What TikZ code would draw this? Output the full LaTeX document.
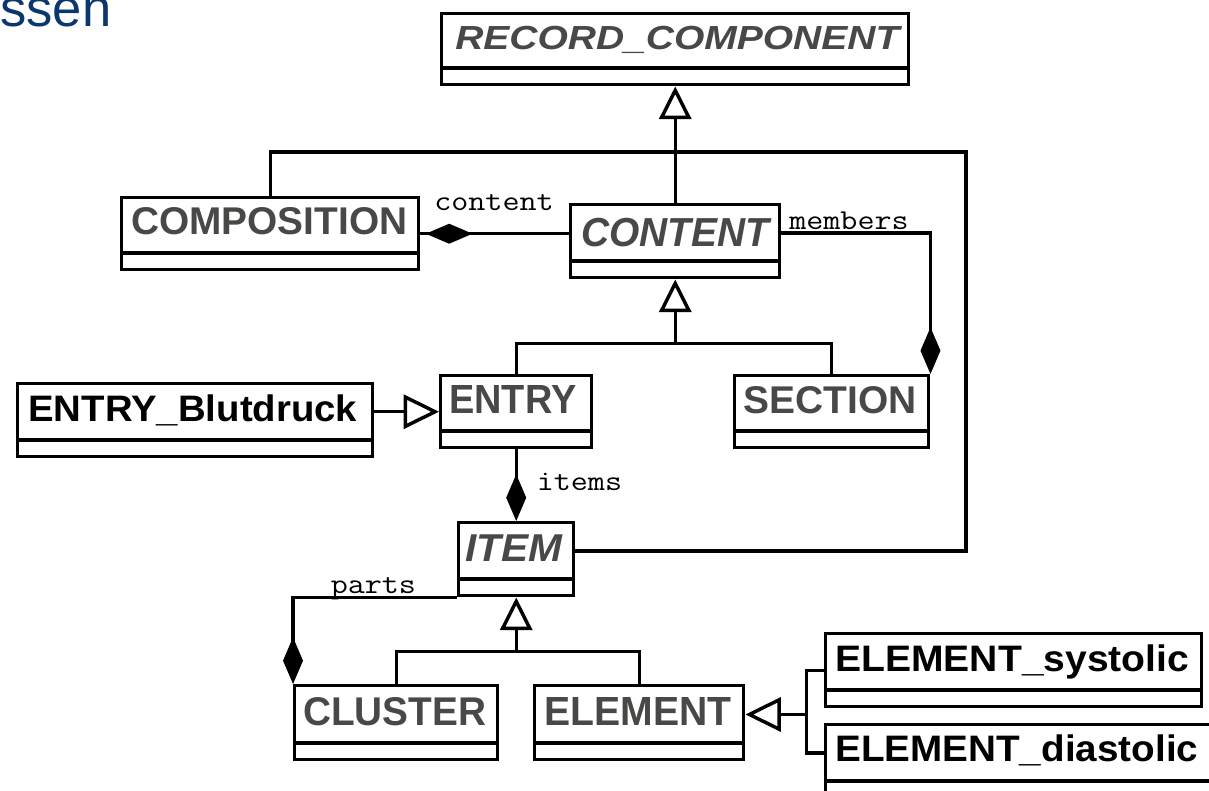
\documentclass[tikz,border=0pt]{standalone}
\usepackage{fontspec}
\setmainfont{Liberation Sans}
\usetikzlibrary{arrows.meta,calc}

% one drawing unit = one pixel of the 1209 x 791 canvas
\newlength{\upx}
\setlength{\upx}{0.75pt}

\definecolor{clsgray}{RGB}{72,72,70}
\definecolor{slideblue}{RGB}{10,55,110}

% class name set to a given width and cap height (in pixels)
\newcommand{\clsname}[3]{\resizebox{#1\upx}{#2\upx}{#3}}
% role name in a wide typewriter face
\newcommand{\rolename}[1]{\scalebox{1.15}[1]{#1}}

\tikzset{
  conn/.style={line width=2.6pt, line join=miter},
  classbox/.style={draw, line width=2.6pt, rectangle, inner sep=0pt,
    anchor=north west, fill=white,
    path picture={\draw[line width=2.6pt]
      ([yshift=12.4pt]path picture bounding box.south west) --
      ([yshift=12.4pt]path picture bounding box.south east);}},
  clstext/.style={anchor=base west, inner sep=0pt, text=clsgray},
  clsblack/.style={anchor=base west, inner sep=0pt, text=black},
  rolelabel/.style={anchor=base west, inner sep=0pt,
    font=\fontsize{21.6pt}{22pt}\ttfamily},
  gen/.style={-{Triangle[open, length=24.5pt, width=24pt]}},
  genh/.style={-{Triangle[open, length=26.5pt, width=25.5pt]}},
  compend/.style={-{Diamond[length=35pt, width=15pt]}},
  compstart/.style={{Diamond[length=35pt, width=15pt]}-},
}

% \umlclass{name}{left}{top}{right}{bottom}
\newcommand{\umlclass}[5]{%
  \node[classbox, minimum width={(#4-#2)*0.75pt},
        minimum height={(#5-#3)*0.75pt}] (#1) at (#2,#3) {};}

\begin{document}
\begin{tikzpicture}[x=0.75pt, y=-0.75pt]
\useasboundingbox (0,0) rectangle (1209,791);
\clip (0,0) rectangle (1209,791);
\fill[white] (0,0) rectangle (1209,791);

% slide title, cut by the top edge
\node[anchor=base west, inner sep=0pt, text=slideblue] (title) at (0,27)
  {\resizebox{111\upx}{!}{\fontsize{40pt}{40pt}\selectfont ssen}};

% classes
\umlclass{rc}{440}{12}{907}{83}
\umlclass{composition}{120}{196}{417}{268}
\umlclass{content}{569}{203}{778}{276}
\umlclass{entryb}{16}{382}{371}{455}
\umlclass{entry}{439}{374}{590}{446}
\umlclass{section}{733}{374}{927}{446}
\umlclass{item}{457}{521}{572}{594}
\umlclass{cluster}{293}{684}{496}{758}
\umlclass{element}{533}{684}{742}{758}
\umlclass{esys}{824}{632}{1200}{705}
\umlclass{edia}{824}{723}{1230}{796}

% class names
\node[clstext] (rc-t) at (455,50)
  {\clsname{444}{23.3}{\bfseries\itshape RECORD\_COMPONENT}};
\node[clstext] (composition-t) at (131,235)
  {\clsname{276}{27}{\bfseries COMPOSITION}};
\node[clstext] (content-t) at (581,246.5)
  {\clsname{188}{28.3}{\bfseries\itshape CONTENT}};
\node[clsblack] (entryb-t) at (28,421.7)
  {\clsname{329}{26.7}{\bfseries ENTRY\_Blutdruck}};
\node[clstext] (entry-t) at (449,413.3)
  {\clsname{127}{28}{\bfseries ENTRY}};
\node[clstext] (section-t) at (743.5,413.3)
  {\clsname{173}{27}{\bfseries SECTION}};
\node[clstext] (item-t) at (465,561.7)
  {\clsname{97}{26.7}{\bfseries\itshape ITEM}};
\node[clstext] (cluster-t) at (303,725)
  {\clsname{183}{28}{\bfseries CLUSTER}};
\node[clstext] (element-t) at (544,725)
  {\clsname{187}{28}{\bfseries ELEMENT}};
\node[clsblack] (esys-t) at (835,671.7)
  {\clsname{354}{26.7}{\bfseries ELEMENT\_systolic}};
\node[clsblack] (edia-t) at (835,761.7)
  {\clsname{363}{26.7}{\bfseries ELEMENT\_diastolic}};

% CONTENT specialises RECORD_COMPONENT
\draw[conn, gen] (content.north) -- (rc.south);

% COMPOSITION -- ITEM association round the top
\coordinate (loopcorner) at (966,152);
\draw[conn] (composition.north) |- (loopcorner) |- ($(item.east)+(0,-8.25)$);

% COMPOSITION owns CONTENT
\draw[conn] (composition.east) -- (composition.east -| content.west);
\draw[conn, compstart, shorten <=4pt] (composition.east) -- (composition.east -| content.west);
\node[rolelabel] (content-l) at (434,210.7) {\rolename{content}};

% SECTION owns CONTENT members
\draw[conn, compend] ($(content.east)+(0,-8.25)$) -| (section.north east);
\node[rolelabel] (members-l) at (789,229.3) {\rolename{members}};

% ENTRY and SECTION specialise CONTENT
\coordinate (genjoin1) at ($(content.south)+(0,64)$);
\draw[conn] (entry.north) |- (genjoin1) -| (section.north);
\draw[conn, gen] (genjoin1) -- (content.south);

% ENTRY_Blutdruck specialises ENTRY
\draw[conn, genh] (entryb.east |- entry.west) -- (entry.west);

% ENTRY owns ITEM items
\draw[conn, compend] (entry.south) -- (item.north);
\node[rolelabel] (items-l) at (536.5,490) {\rolename{items}};

% CLUSTER owns ITEM parts
\draw[conn, compend] (item.south west) -| (cluster.north west);
\node[rolelabel] (parts-l) at (330.5,593) {\rolename{parts}};

% CLUSTER and ELEMENT specialise ITEM
\coordinate (genjoin2) at ($(item.south)+(0,54)$);
\draw[conn] (cluster.north) |- (genjoin2) -| (element.north);
\draw[conn, gen] (genjoin2) -- (item.south);

% ELEMENT_systolic and ELEMENT_diastolic specialise ELEMENT
\coordinate (genjoin3) at ($(element.east)+(61,-8.25)$);
\draw[conn] (esys.west) -| (genjoin3) |- ($(edia.west)+(0,-8.25)$);
\draw[conn, genh] (genjoin3) -- ($(element.east)+(0,-8.25)$);
\end{tikzpicture}
\end{document}
